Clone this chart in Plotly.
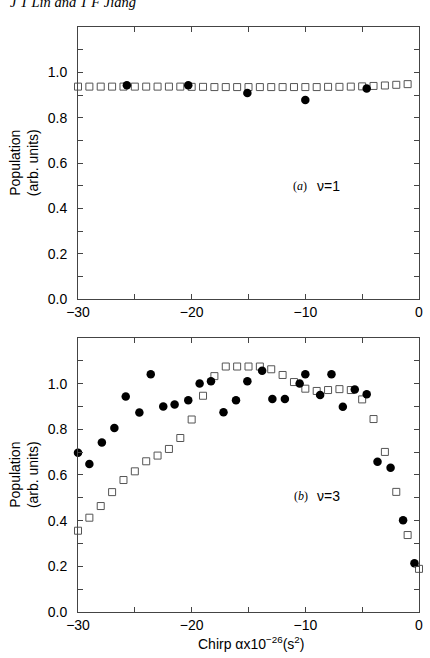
import plotly.graph_objects as go
from plotly.subplots import make_subplots

# ---- data: panel (a) nu=1 ----
a_sq_x = list(range(-30, 0))
a_sq_y = [0.937, 0.937, 0.937, 0.937, 0.937, 0.937, 0.937, 0.937, 0.937, 0.937,
          0.936, 0.936, 0.935, 0.935, 0.935, 0.935, 0.935, 0.935, 0.935, 0.935,
          0.935, 0.935, 0.936, 0.936, 0.937, 0.938, 0.940, 0.942, 0.945, 0.948]
a_ci_x = [-25.7, -20.3, -15.1, -10.0, -4.6]
a_ci_y = [0.943, 0.943, 0.909, 0.878, 0.929]

# ---- data: panel (b) nu=3 ----
b_sq_x = list(range(-30, 1))
b_sq_y = [0.356, 0.413, 0.464, 0.525, 0.578, 0.616, 0.660, 0.685, 0.714, 0.762,
          0.843, 0.947, 1.033, 1.075, 1.075, 1.075, 1.075, 1.063, 1.038, 1.007,
          0.978, 0.968, 0.972, 0.976, 0.972, 0.931, 0.845, 0.701, 0.526, 0.337,
          0.189]
b_ci_x = [-30.0, -29.0, -27.9, -26.8, -25.8, -24.6, -23.6, -22.5, -21.5, -20.3,
          -19.3, -18.3, -17.2, -16.1, -15.1, -13.8, -12.9, -11.8, -10.5, -10.0,
          -8.7, -7.7, -6.7, -5.65, -4.6, -3.65, -2.5, -1.4, -0.4]
b_ci_y = [0.697, 0.648, 0.742, 0.806, 0.944, 0.874, 1.041, 0.900, 0.909, 0.927,
          1.001, 1.011, 0.875, 0.927, 1.011, 1.056, 0.933, 0.933, 1.001, 1.041,
          0.950, 1.041, 0.899, 0.974, 0.954, 0.658, 0.632, 0.402, 0.214]

y_tickvals = [0.0, 0.2, 0.4, 0.6, 0.8, 1.0]
y_ticktext = ["0.0", "0.2", "0.4", "0.6", "0.8", "1.0"]
x_tickvals = [-30, -20, -10, 0]

SANS = "Liberation Sans, Arial, Helvetica, sans-serif"
SERIF = "Liberation Serif, Times New Roman, serif"

fig = make_subplots(rows=2, cols=1, vertical_spacing=0.0667)

sq_marker = dict(symbol="square-open", size=7, color="#555555", line=dict(width=1, color="#555555"))
ci_marker = dict(symbol="circle", size=8.5, color="black")

fig.add_trace(go.Scatter(x=a_sq_x, y=a_sq_y, mode="markers", marker=sq_marker, cliponaxis=False), row=1, col=1)
fig.add_trace(go.Scatter(x=a_ci_x, y=a_ci_y, mode="markers", marker=ci_marker, cliponaxis=False), row=1, col=1)
fig.add_trace(go.Scatter(x=b_sq_x, y=b_sq_y, mode="markers", marker=sq_marker, cliponaxis=False), row=2, col=1)
fig.add_trace(go.Scatter(x=b_ci_x, y=b_ci_y, mode="markers", marker=ci_marker, cliponaxis=False), row=2, col=1)

axis_common = dict(showline=True, linecolor="#444444", linewidth=1, mirror="ticks",
                   ticks="inside", ticklen=5, tickcolor="#444444", showgrid=False,
                   zeroline=False, tickfont=dict(family=SANS, size=14, color="black"))

for r in (1, 2):
    fig.update_xaxes(range=[-30, 0], tickvals=x_tickvals, ticklabelstandoff=0,
                     minor=dict(ticks="inside", ticklen=5, tickcolor="#444444", tickvals=[-25, -15, -5]),
                     row=r, col=1, **axis_common)
    fig.update_yaxes(range=[0, 1.2], tickvals=y_tickvals, ticktext=y_ticktext, ticklabelstandoff=7,
                     minor=dict(ticks="inside", ticklen=5, tickcolor="#444444",
                                tickvals=[0.1, 0.3, 0.5, 0.7, 0.9, 1.1]),
                     row=r, col=1, **axis_common)

fig.update_layout(xaxis=dict(domain=[0, 1]), xaxis2=dict(domain=[0, 1]),
                  yaxis=dict(domain=[0.535, 1.0]), yaxis2=dict(domain=[0.0, 0.4684]))

annots = []
for yc in (0.5 * (0.535 + 1.0), 0.5 * 0.4684):
    annots.append(dict(text="Population<br>(arb. units)", xref="paper", yref="paper",
                       x=(23.5 - 78) / 345, y=yc, xanchor="center", yanchor="middle",
                       textangle=-90, showarrow=False,
                       font=dict(family=SANS, size=14, color="black"), align="center"))
annots.append(dict(text="(<i>a</i>)", xref="x", yref="y", x=-10.45, y=0.5, showarrow=False,
                   xanchor="center", yanchor="middle",
                   font=dict(family=SERIF, size=12, color="black")))
annots.append(dict(text="ν=1", xref="x", yref="y", x=-8.0, y=0.5, showarrow=False,
                   xanchor="center", yanchor="middle",
                   font=dict(family=SANS, size=14, color="black")))
annots.append(dict(text="(<i>b</i>)", xref="x2", yref="y2", x=-10.4, y=0.509, showarrow=False,
                   xanchor="center", yanchor="middle",
                   font=dict(family=SERIF, size=12, color="black")))
annots.append(dict(text="ν=3", xref="x2", yref="y2", x=-8.0, y=0.509, showarrow=False,
                   xanchor="center", yanchor="middle",
                   font=dict(family=SANS, size=14, color="black")))
annots.append(dict(text="Chirp αx10<sup>−26</sup>(s<sup>2</sup>)", xref="paper", yref="paper",
                   x=(253 - 78) / 345, y=(612 - 643) / 585, xanchor="center", yanchor="middle",
                   showarrow=False, font=dict(family=SANS, size=14, color="black")))
annots.append(dict(text="<i>J T Lin and T F Jiang</i>", xref="paper", yref="paper",
                   x=(7 - 78) / 345, xanchor="left", y=(612 - 2) / 585, yanchor="middle",
                   showarrow=False, font=dict(family=SERIF, size=14.5, color="black")))

fig.update_layout(width=430, height=658, margin=dict(l=78, r=7, t=27, b=46),
                  paper_bgcolor="white", plot_bgcolor="white", showlegend=False,
                  annotations=annots)

fig.write_html("out.html", config={"displayModeBar": False})
